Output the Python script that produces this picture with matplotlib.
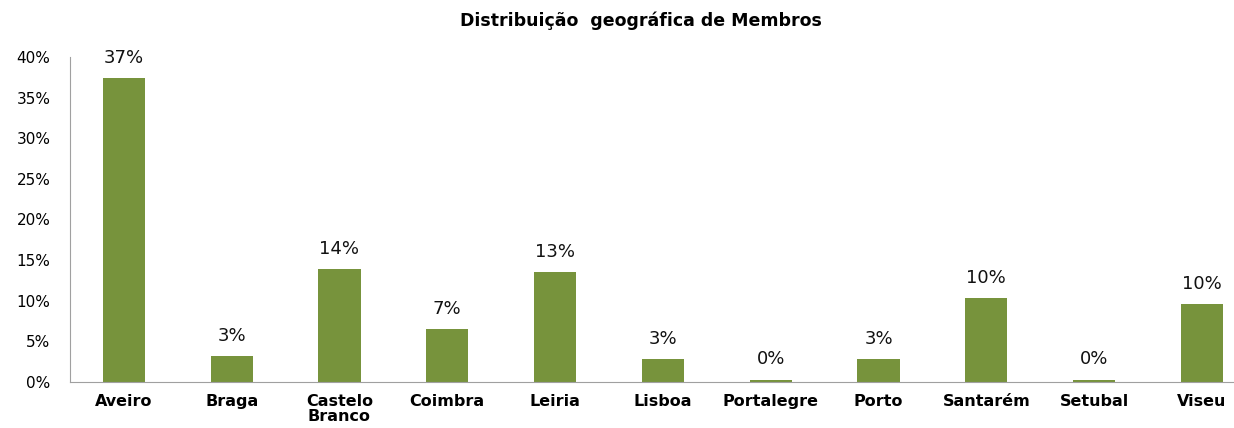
import matplotlib.pyplot as plt
from matplotlib.ticker import FuncFormatter

distritos = ['Aveiro', 'Braga', 'Castelo\nBranco', 'Coimbra', 'Leiria', 'Lisboa',
             'Portalegre', 'Porto', 'Santarém', 'Setubal', 'Viseu']
percentagens = [37.4, 3.2, 13.9, 6.5, 13.5, 2.8, 0.3, 2.8, 10.3, 0.3, 9.6]
rotulos = ['37%', '3%', '14%', '7%', '13%', '3%', '0%', '3%', '10%', '0%', '10%']

fig = plt.figure(figsize=(12.34, 4.28), dpi=100)
ax = fig.add_axes([0.0567, 0.1075, 0.961, 0.7593])

x = list(range(len(distritos)))
barras = ax.bar(x, percentagens, width=0.39, color='#77933C')

for b, r in zip(barras, rotulos):
    ax.annotate(r, (b.get_x() + b.get_width() / 2, b.get_height()),
                xytext=(0, 8), textcoords='offset points', ha='center', va='bottom',
                fontsize=13, family='DejaVu Sans', color='#111111')

ax.set_xlim(-0.5, len(distritos) - 0.5)
ax.set_ylim(0, 40)
ax.set_yticks(range(0, 41, 5))
ax.yaxis.set_major_formatter(FuncFormatter(lambda v, p: '%d%%' % v))
ax.set_xticks(x)
ax.set_xticklabels(distritos, fontsize=11.5, fontweight='bold', family='DejaVu Sans',
                   linespacing=0.92, va='top')
for t in ax.get_yticklabels():
    t.set_fontsize(11)
    t.set_family('DejaVu Sans')
ax.tick_params(axis='both', length=0)
ax.tick_params(axis='x', pad=9)
ax.tick_params(axis='y', pad=14)

ax.spines['top'].set_visible(False)
ax.spines['right'].set_visible(False)
ax.spines['left'].set_color('#A0A0A0')
ax.spines['bottom'].set_color('#A0A0A0')

fig.text(0.519, 0.952, 'Distribuição  geográfica de Membros', ha='center', va='center',
         fontsize=12.5, fontweight='bold', family='DejaVu Sans')

fig.savefig('out.png', dpi=100)
